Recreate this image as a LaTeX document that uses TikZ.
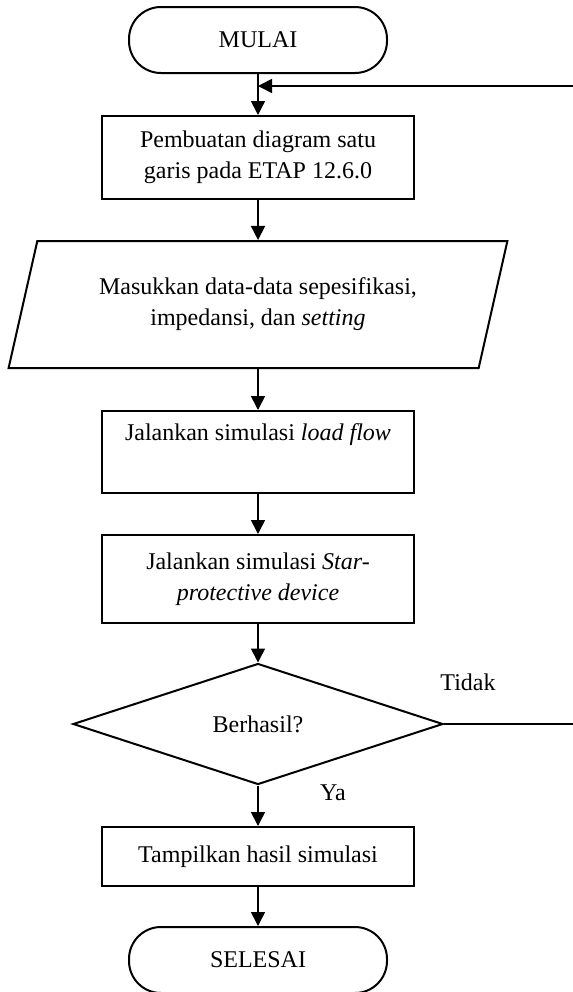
\documentclass[tikz,border=0pt]{standalone}
\usepackage{fontspec}
\setmainfont{Liberation Serif}
\usepackage{tikz}
\usepackage{xcolor}
\usetikzlibrary{shapes.geometric,arrows.meta}

\begin{document}
\begin{tikzpicture}[x=0.5pt,y=-0.5pt,font=\fontsize{12}{15.5}\selectfont]
      \useasboundingbox(0,0) rectangle (573,992);
      \tikzset{T/.style = {shape=rectangle, rounded corners=16pt, draw, line width=1pt, minimum width=129pt, minimum height=33pt}}
      \tikzset{B/.style = {shape=rectangle, draw, line width=1pt, minimum width=156pt, align=center}}
      \tikzset{P/.style = {trapezium, trapezium left angle=72, trapezium right angle=108, trapezium stretches=true, draw, line width=1pt, minimum width=249.5pt, minimum height=63.5pt, align=center}}
      \tikzset{D/.style = {diamond, draw, line width=1pt, minimum width=185pt, minimum height=60.5pt, inner sep=0pt}}
      \tikzset{E/.style = {draw, line width=0.8pt, -{Triangle[length=7pt,width=7pt]}}}
      \node[T](mulai) at (258,40) {MULAI};
      \node[B,minimum height=41.5pt](buat) at (258,157.5) {Pembuatan diagram satu\\garis pada ETAP 12.6.0};
      \node[P](data) at (258,304.5) {Masukkan data-data sepesifikasi,\\impedansi, dan \textit{setting}};
      \node[B,minimum height=41pt](flow) at (258,452) {Jalankan simulasi \textit{load flow}\\\strut};
      \node[B,minimum height=44pt](star) at (258,579) {Jalankan simulasi \textit{Star-}\\\textit{protective device}};
      \node[D](cek) at (258,724) {Berhasil?};
      \node[B,minimum height=29.5pt](tampil) at (258,856.5) {Tampilkan hasil simulasi};
      \node[T](selesai) at (258,960) {SELESAI};
      \node(tidak) at (468,682) {Tidak};
      \node(ya) at (333,793) {Ya};
      \coordinate(c1) at (573,724);
      \coordinate(c2) at (573,86);
      \coordinate(c3) at (258,86);
      \draw[E](mulai) to (buat);
      \draw[E](c2) to (c3);
      \draw[E](buat) to (data);
      \draw[E](data) to (flow);
      \draw[E](flow) to (star);
      \draw[E](star) to (cek);
      \draw[E](cek) to (tampil);
      \draw[E](tampil) to (selesai);
      \draw[line width=0.8pt](cek.east) to (c1);
    \end{tikzpicture}
\end{document}
